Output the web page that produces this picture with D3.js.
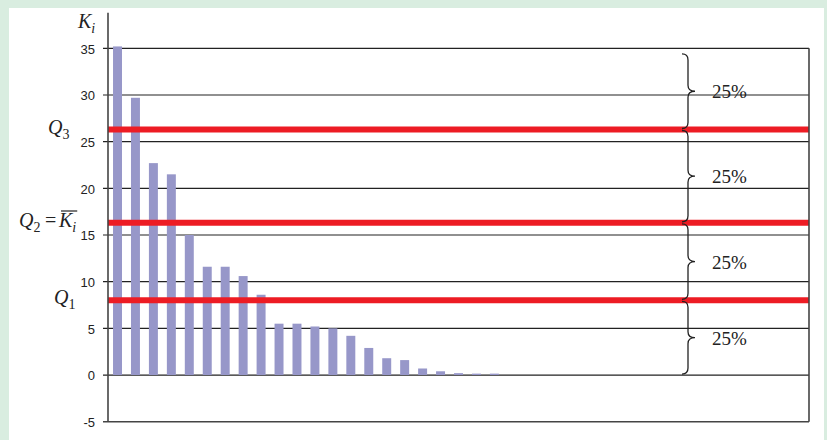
<!DOCTYPE html>
<html>
<head>
<meta charset="utf-8">
<script src="https://cdn.jsdelivr.net/npm/d3@7"></script>
<style>
  body { margin: 0; background: #d9ede0; }
  svg { display: block; }
</style>
</head>
<body>
<svg id="chart" width="827" height="440"></svg>
<script>
// bar heights K_i, sorted descending (39 categories, the rest are zero)
var values = [35.2, 29.7, 22.7, 21.5, 15.0, 11.6, 11.6, 10.6, 8.6, 5.5,
              5.5, 5.2, 5.0, 4.2, 2.9, 1.8, 1.6, 0.7, 0.4, 0.2,
              0.15, 0.15, 0, 0, 0, 0, 0, 0, 0, 0,
              0, 0, 0, 0, 0, 0, 0, 0, 0];
var categories = values.map(function(d, i) { return i + 1; });

// y ticks
var yTicks = [-5, 0, 5, 10, 15, 20, 25, 30, 35];

// quartile lines
var quartiles = [
  { name: "Q3", value: 26.3 },
  { name: "Q2", value: 16.3 },
  { name: "Q1", value: 8.0 }
];

// braces between these levels, each labelled 25%
var braceLevels = [34.5, 26.3, 16.3, 8.0, 0];
var braceLabel = "25%";

var svg = d3.select("#chart");

// panel
svg.append("rect")
  .attr("x", 0).attr("y", 0).attr("width", 827).attr("height", 440)
  .attr("fill", "#d9ede0");
svg.append("rect")
  .attr("x", 9).attr("y", 8).attr("width", 815).attr("height", 440)
  .attr("fill", "white");

var left = 108, right = 809;

var y = d3.scaleLinear()
  .domain([-5, 35])
  .range([421.7, 48.3]);

var x = d3.scaleBand()
  .domain(categories)
  .range([left, right])
  .paddingInner(0.5)
  .paddingOuter(0.28);

// gridlines with tick marks
svg.append("g")
  .selectAll("line")
  .data(yTicks.filter(function(t) { return t > -5; }))
  .enter()
  .append("line")
  .attr("x1", left - 5)
  .attr("x2", right)
  .attr("y1", function(d) { return y(d); })
  .attr("y2", function(d) { return y(d); })
  .attr("stroke", "#222")
  .attr("stroke-width", 1.2);

// tick labels
svg.append("g")
  .selectAll("text")
  .data(yTicks)
  .enter()
  .append("text")
  .attr("x", 95)
  .attr("y", function(d) { return y(d); })
  .attr("dy", "0.4em")
  .attr("text-anchor", "end")
  .style("font-family", "'Liberation Sans', Arial, sans-serif")
  .style("font-size", "13px")
  .attr("fill", "#222")
  .text(function(d) { return d; });

// bars
svg.append("g")
  .selectAll("rect")
  .data(values)
  .enter()
  .append("rect")
  .attr("x", function(d, i) { return x(categories[i]); })
  .attr("width", x.bandwidth())
  .attr("y", function(d) { return y(d); })
  .attr("height", function(d) { return y(0) - y(d); })
  .attr("fill", "#9797c9");

// quartile lines
svg.append("g")
  .selectAll("line")
  .data(quartiles)
  .enter()
  .append("line")
  .attr("x1", left)
  .attr("x2", right)
  .attr("y1", function(d) { return y(d.value); })
  .attr("y2", function(d) { return y(d.value); })
  .attr("stroke", "#ed1c24")
  .attr("stroke-width", 6);

// frame: y axis, bottom and right border
var frame = svg.append("g").attr("stroke", "#444").attr("stroke-width", 1.6).attr("fill", "none");
frame.append("line").attr("x1", left).attr("x2", left).attr("y1", y(38.8)).attr("y2", y(-5));
frame.append("line").attr("x1", left - 5).attr("x2", right).attr("y1", y(-5)).attr("y2", y(-5));
frame.append("line").attr("x1", right).attr("x2", right).attr("y1", y(35)).attr("y2", y(-5));

// curly braces
function bracePath(x0, y1, y2) {
  var xs = x0 + 6, xt = x0 + 13, r = 6, ym = (y1 + y2) / 2;
  return "M" + x0 + "," + y1 +
    "Q" + xs + "," + y1 + " " + xs + "," + (y1 + r) +
    "L" + xs + "," + (ym - r) +
    "Q" + xs + "," + ym + " " + xt + "," + ym +
    "Q" + xs + "," + ym + " " + xs + "," + (ym + r) +
    "L" + xs + "," + (y2 - r) +
    "Q" + xs + "," + y2 + " " + x0 + "," + y2;
}

var braces = d3.pairs(braceLevels);
svg.append("g")
  .selectAll("path")
  .data(braces)
  .enter()
  .append("path")
  .attr("d", function(d) { return bracePath(682, y(d[0]) + 1, y(d[1]) - 1); })
  .attr("fill", "none")
  .attr("stroke", "#222")
  .attr("stroke-width", 1.3);

svg.append("g")
  .selectAll("text")
  .data(braces)
  .enter()
  .append("text")
  .attr("x", 712)
  .attr("y", function(d) { return (y(d[0]) + y(d[1])) / 2 + 7; })
  .style("font-family", "'Liberation Serif', 'Times New Roman', serif")
  .style("font-size", "19px")
  .attr("fill", "#222")
  .text(braceLabel);

// italic math labels
var serif = "'Liberation Serif', 'Times New Roman', serif";

function mathLabel(xPos, yPos, main, sub, italicSub) {
  var t = svg.append("text")
    .attr("x", xPos).attr("y", yPos)
    .style("font-family", serif)
    .style("font-size", "20px")
    .attr("fill", "#222");
  t.append("tspan").style("font-style", "italic").text(main);
  t.append("tspan")
    .attr("dy", 5)
    .style("font-size", "14px")
    .style("font-style", italicSub ? "italic" : "normal")
    .text(sub);
  return t;
}

mathLabel(78, 28, "K", "i", true);
mathLabel(48, 134, "Q", "3", false);
mathLabel(54, 304, "Q", "1", false);

// Q2 = K-bar_i
mathLabel(19, 227, "Q", "2", false);
svg.append("text")
  .attr("x", 45).attr("y", 227)
  .style("font-family", serif)
  .style("font-size", "20px")
  .attr("fill", "#222")
  .text("=");
var kb = mathLabel(59, 227, "K", "i", true);
var kw = kb.node().getComputedTextLength();
svg.append("line")
  .attr("x1", 61).attr("x2", 59 + kw + 1)
  .attr("y1", 211).attr("y2", 211)
  .attr("stroke", "#222").attr("stroke-width", 1.2);
</script>
</body>
</html>
